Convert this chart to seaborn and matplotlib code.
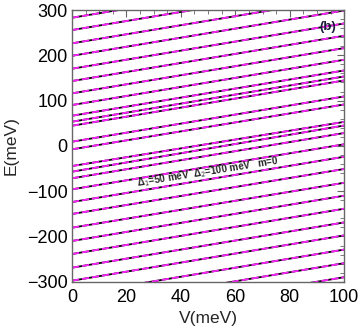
import numpy as np
import pandas as pd
import matplotlib
matplotlib.use("Agg")
import matplotlib.pyplot as plt
import seaborn as sns
from matplotlib.ticker import MultipleLocator

# level energies read at V = 0 and V = 100 meV
E_at_V0 = [283, 255.8, 226.5, 199, 170.4, 143.2, 116, 90.2, 66.6, 53.4, 44.5,
           9.2, -7.6, -44.5, -57, -71.6, -95.9, -124, -150.4, -180.7, -210,
           -238.8, -269, -297.7, -329, -359, -390]
E_at_V100 = [383, 355.8, 326.5, 299, 270.4, 243.2, 216, 190.2, 166.6, 153.4, 144.5,
             109.2, 91.5, 53, 45, 28.4, 3.5, -24, -51, -81.5, -110,
             -138.8, -169, -197.7, -229, -259, -290]
V_ends = [0, 100]

rows = []
for i, (a, b) in enumerate(zip(E_at_V0, E_at_V100)):
    rows.append({"level": i, "V": V_ends[0], "E": a})
    rows.append({"level": i, "V": V_ends[1], "E": b})
df = pd.DataFrame(rows)

sns.set_style("white")
plt.rcParams['font.family'] = ['Liberation Sans', 'DejaVu Sans']

fig = plt.figure(figsize=(3.6, 3.35), dpi=100)
ax = fig.add_axes([0.2, 0.159, 0.756, 0.811])

sns.lineplot(data=df, x="V", y="E", units="level", estimator=None,
             color="black", lw=1.3, ax=ax)
sns.lineplot(data=df, x="V", y="E", units="level", estimator=None,
             color="#ff22ff", lw=1.3, linestyle=(0, (4, 1.6)), ax=ax)

ax.set_xlim(0, 100)
ax.set_ylim(-300, 300)
ax.xaxis.set_major_locator(MultipleLocator(20))
ax.xaxis.set_minor_locator(MultipleLocator(5))
ax.yaxis.set_major_locator(MultipleLocator(100))
ax.yaxis.set_minor_locator(MultipleLocator(20))
ax.tick_params(which="both", direction="in", top=True, right=True,
               color="#666666", labelsize=13, labelcolor="black")
ax.tick_params(axis="x", pad=5)
ax.tick_params(axis="y", pad=3)
ax.tick_params(which="major", length=5, width=0.8)
ax.tick_params(which="minor", length=3, width=0.6)
for s in ax.spines.values():
    s.set_color("#666666")
    s.set_linewidth(1.0)

ax.set_xlabel("V(meV)", fontsize=12.5, labelpad=4)
ax.set_ylabel("E(meV)", fontsize=12.5, labelpad=6)

ax.text(94, 263, "(b)", fontsize=9.5, fontweight="bold", color="#1a1a3a",
        ha="center", va="center")
ax.text(50, -57, "Δ$_1$=50 meV  Δ$_2$=100 meV   m=0",
        fontsize=7, fontweight="bold", rotation=9,
        ha="center", va="center")

fig.savefig("out.png", dpi=100)
